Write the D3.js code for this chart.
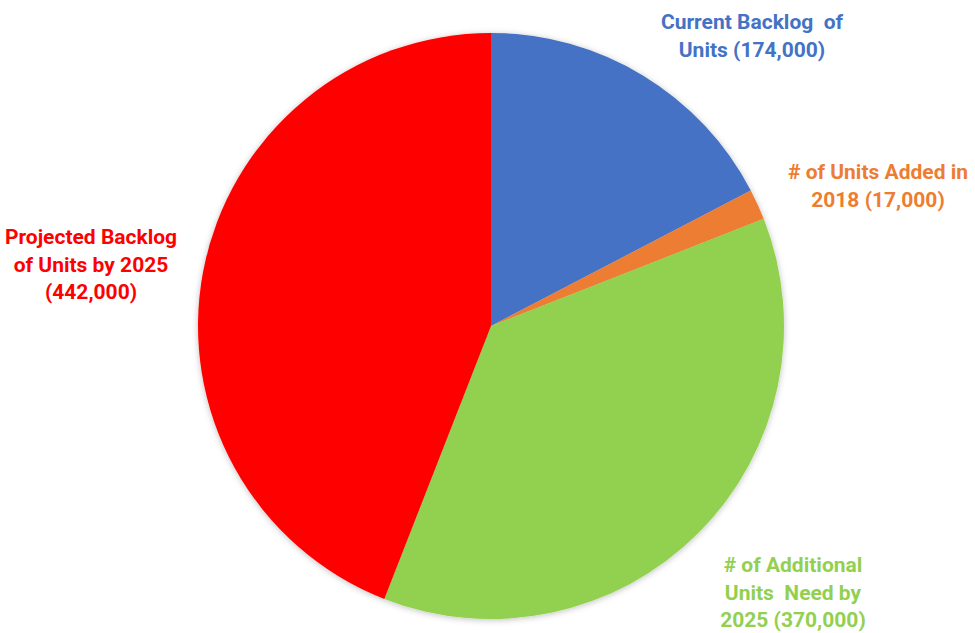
<!DOCTYPE html>
<html>
<head>
<meta charset="utf-8">
<script src="https://cdn.jsdelivr.net/npm/d3@7"></script>
<style>
  body { margin: 0; background: #fff; }
  svg { display: block; }
  .label { font-family: Roboto, "Open Sans", sans-serif; font-weight: bold; font-size: 21px; }
</style>
</head>
<body>
<div id="chart"></div>
<script>
// slices, clockwise from 12 o'clock
const categories = [
  'Current Backlog of Units',
  '# of Units Added in 2018',
  '# of Additional Units Need by 2025',
  'Projected Backlog of Units by 2025'
];
const values = [174000, 17000, 370000, 442000];
const colors = ['#4472C4', '#ED7D31', '#92D050', '#FF0000'];
// label lines as they appear in the picture
const labelLines = [
  ['Current Backlog  of', 'Units (174,000)'],
  ['# of Units Added in', '2018 (17,000)'],
  ['# of Additional', 'Units  Need by', '2025 (370,000)'],
  ['Projected Backlog', 'of Units by 2025', '(442,000)']
];
// where each label block sits (centre x, first baseline y)
const labelPos = [[752, 29], [878, 179], [793, 572], [91, 244]];

const width = 975, height = 633;
const cx = 491, cy = 326, radius = 293;

const svg = d3.select('#chart').append('svg')
  .attr('width', width)
  .attr('height', height);

const defs = svg.append('defs');
const shadow = defs.append('filter').attr('id', 'shadow')
  .attr('x', '-10%').attr('y', '-10%').attr('width', '120%').attr('height', '120%');
shadow.append('feDropShadow')
  .attr('dx', 0).attr('dy', 1)
  .attr('stdDeviation', 3)
  .attr('flood-color', '#000')
  .attr('flood-opacity', 0.25);

const pie = d3.pie().sort(null).value(d => d);
const arc = d3.arc().innerRadius(0).outerRadius(radius);

const g = svg.append('g')
  .attr('transform', `translate(${cx},${cy})`)
  .attr('filter', 'url(#shadow)');

g.selectAll('path')
  .data(pie(values))
  .join('path')
  .attr('d', arc)
  .attr('fill', (d, i) => colors[i]);

const lineHeight = 27.5;
labelLines.forEach((lines, i) => {
  const t = svg.append('text')
    .attr('class', 'label')
    .attr('text-anchor', 'middle')
    .attr('fill', colors[i])
    .attr('xml:space', 'preserve');
  lines.forEach((l, j) => {
    t.append('tspan')
      .attr('x', labelPos[i][0])
      .attr('y', labelPos[i][1] + j * lineHeight)
      .text(l);
  });
});
</script>
</body>
</html>
